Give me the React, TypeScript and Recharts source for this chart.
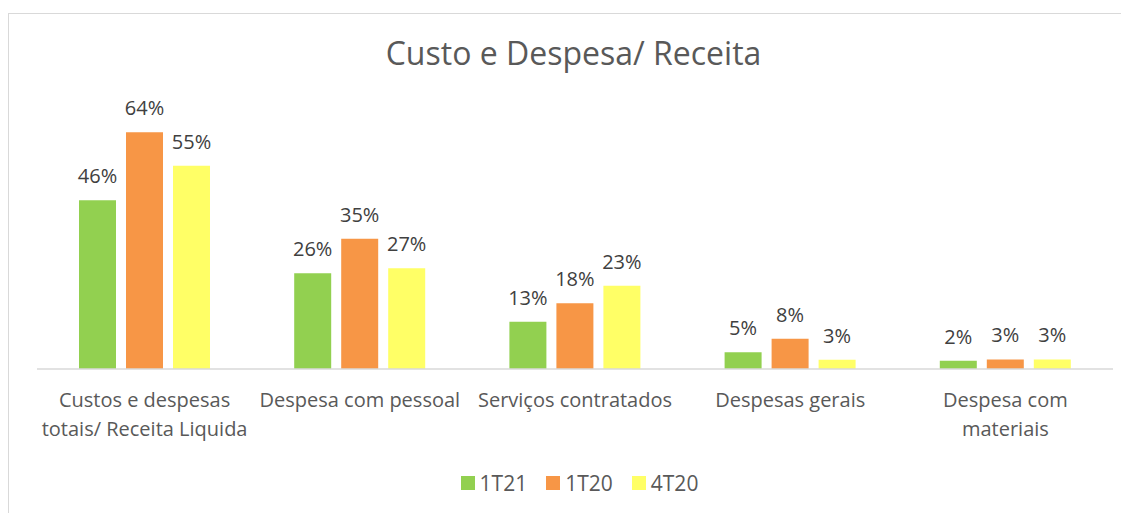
import { BarChart, Bar, XAxis, YAxis, LabelList } from 'recharts';

// line breaks as they wrap in the original
const categories = [
  'Custos e despesas\ntotais/ Receita Liquida',
  'Despesa com pessoal',
  'Serviços contratados',
  'Despesas gerais',
  'Despesa com\nmateriais',
];
const s1T21 = [45.6, 25.9, 12.8, 4.5, 2.2];
const s1T20 = [64.0, 35.2, 17.8, 8.2, 2.6];
const s4T20 = [54.9, 27.2, 22.5, 2.5, 2.6];

const series = [
  { key: '1T21', values: s1T21, color: '#92D050' },
  { key: '1T20', values: s1T20, color: '#F79646' },
  { key: '4T20', values: s4T20, color: '#FFFF66' },
];

const data = categories.map((c, i) => ({
  name: c,
  '1T21': s1T21[i],
  '1T20': s1T20[i],
  '4T20': s4T20[i],
}));

const font = '"Open Sans", sans-serif';

function CategoryTick(props: any) {
  const { x, y, payload } = props;
  const lines = String(payload.value).split('\n');
  return (
    <text x={x} y={y} textAnchor="middle" fill="#595959" fontSize={20} fontFamily={font}>
      {lines.map((l, i) => (
        <tspan key={i} x={x} dy={i === 0 ? 14 : 29}>{l}</tspan>
      ))}
    </text>
  );
}

function LegendRow() {
  return (
    <div style={{ position: 'absolute', top: 461, left: 11, width: 1121, display: 'flex', justifyContent: 'center', gap: 19, fontFamily: font, fontSize: 21, color: '#595959' }}>
      {series.map(s => (
        <div key={s.key} style={{ display: 'flex', alignItems: 'center', gap: 5 }}>
          <span style={{ width: 14, height: 14, background: s.color, display: 'inline-block' }} />
          <span>{s.key}</span>
        </div>
      ))}
    </div>
  );
}

export default function App() {
  return (
    <div style={{ position: 'relative', width: 1121, height: 505, overflow: 'hidden' }}>
      <div style={{ position: 'absolute', left: 0, top: 5, width: 1300, height: 700, border: '1px solid #d9d9d9' }} />
      <div style={{ position: 'absolute', top: 23, left: 5, width: 1121, textAlign: 'center', fontFamily: font, fontSize: 32, color: '#595959' }}>
        Custo e Despesa/ Receita
      </div>
      <div style={{ position: 'absolute', left: 0, top: 0 }}>
        <BarChart width={1121} height={505} data={data} margin={{ top: 102, right: 16, bottom: 44, left: 29 }} barGap={10} barSize={37}>
          <XAxis
            dataKey="name"
            axisLine={{ stroke: '#d9d9d9', strokeWidth: 1.5 }}
            tickLine={false}
            tickMargin={18}
            interval={0}
            tick={<CategoryTick />}
            height={100}
          />
          <YAxis hide domain={[0, 70]} />
          {series.map(s => (
            <Bar key={s.key} dataKey={s.key} fill={s.color} isAnimationActive={false}>
              <LabelList
                dataKey={s.key}
                position="top"
                offset={17}
                formatter={(v: any) => `${Math.round(v)}%`}
                fill="#404040"
                fontSize={20}
                fontFamily={font}
              />
            </Bar>
          ))}
        </BarChart>
      </div>
      <LegendRow />
    </div>
  );
}
